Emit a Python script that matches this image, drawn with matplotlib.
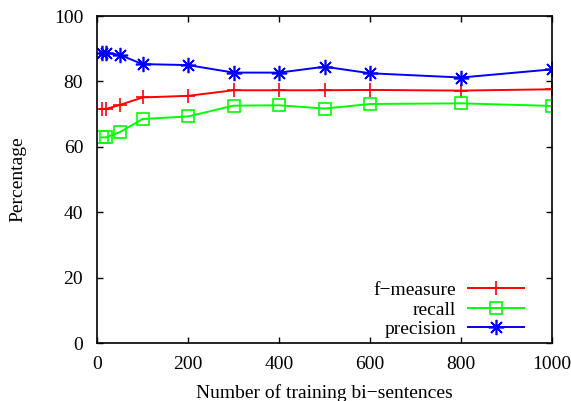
import matplotlib
matplotlib.use("Agg")
import matplotlib.pyplot as plt

# training set sizes and scores
sizes = [10, 20, 50, 100, 200, 300, 400, 500, 600, 800, 1000]
f_measure = [71.6, 71.6, 72.8, 75.1, 75.6, 77.3, 77.3, 77.3, 77.4, 77.2, 77.6]
recall = [62.9, 62.9, 64.5, 68.5, 69.3, 72.6, 72.7, 71.7, 73.1, 73.3, 72.5]
precision = [88.8, 88.8, 88.1, 85.3, 85.0, 82.7, 82.7, 84.5, 82.5, 81.2, 83.7]

plt.rcParams["font.family"] = ["Liberation Serif", "DejaVu Serif"]
plt.rcParams["font.size"] = 14

fig = plt.figure(figsize=(5.71, 4.01), dpi=100)
ax = fig.add_axes([0.170, 0.1446, 0.797, 0.8154])

ax.plot(sizes, f_measure, color="#ff0000", lw=1.4, marker="+", ms=10, mew=1.2,
        label="f\u2212measure")
ax.plot(sizes, recall, color="#00ff00", lw=1.4, marker="s", ms=9, mew=1.2,
        mfc="none", label="recall")
ax.plot(sizes, precision, color="#0000ff", lw=1.4, marker=(8, 2, 0), ms=11,
        mew=1.2, label="precision")

ax.set_xlim(0, 1000)
ax.set_ylim(0, 100)
ax.set_xticks([0, 200, 400, 600, 800, 1000])
ax.set_yticks([0, 20, 40, 60, 80, 100])
ax.tick_params(direction="in", top=True, right=True, length=4, width=1)
ax.tick_params(axis="y", pad=10)
ax.tick_params(axis="x", pad=9)
for s in ax.spines.values():
    s.set_linewidth(1.2)

ax.set_xlabel("Number of training bi\u2212sentences", labelpad=8)
ax.set_ylabel("Percentage", labelpad=20)

ax.legend(loc="lower right", bbox_to_anchor=(0.956, -0.009),
          markerfirst=False, numpoints=1, frameon=False,
          handlelength=2.9, handletextpad=0.6, labelspacing=0.1,
          borderaxespad=0)

fig.savefig("out.png", dpi=100)
